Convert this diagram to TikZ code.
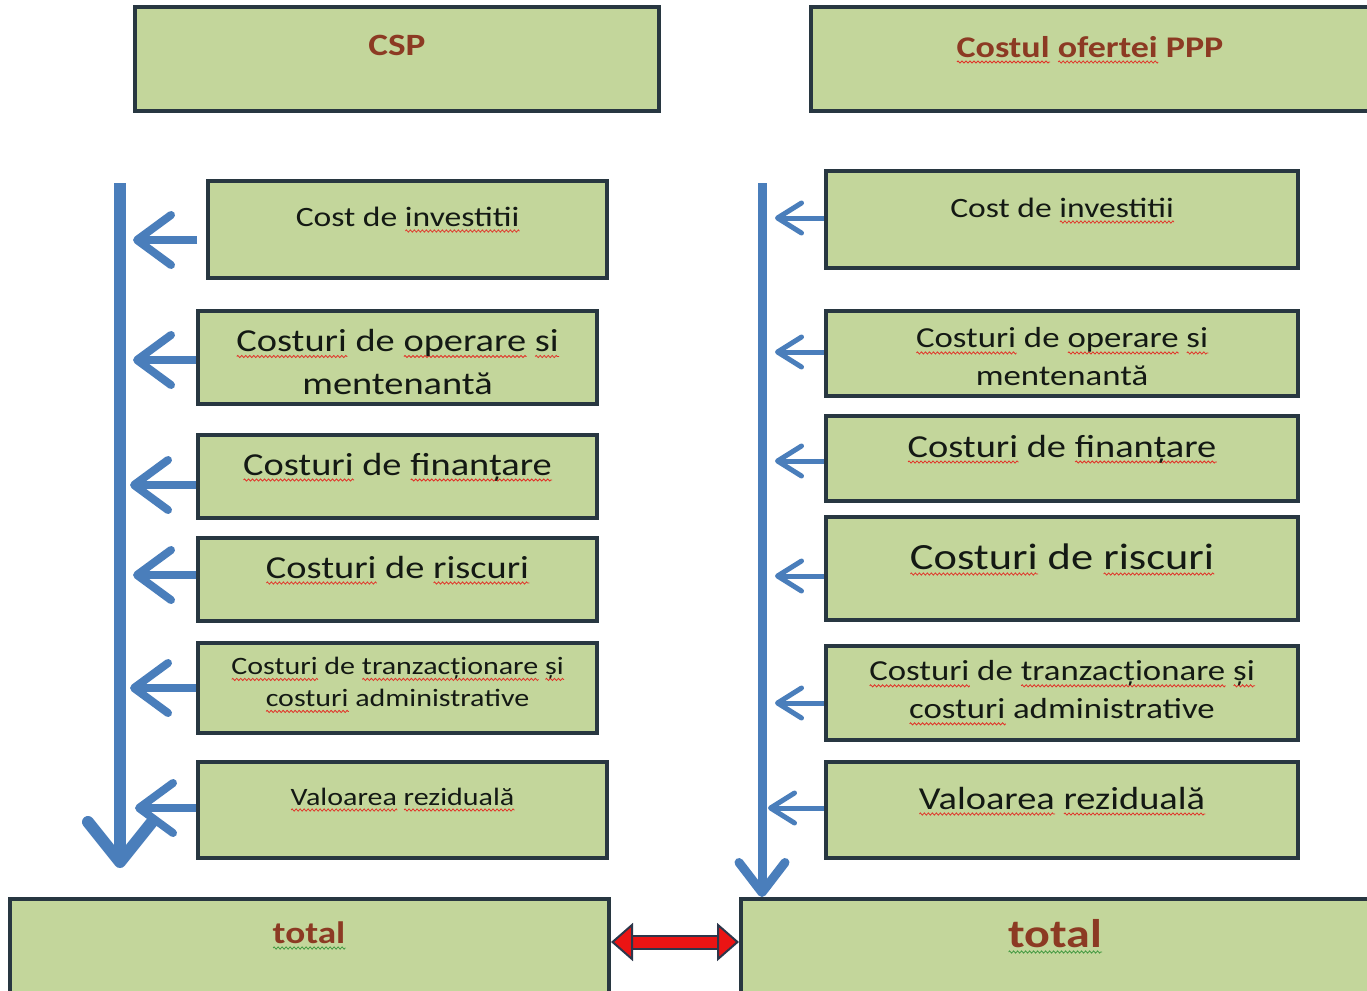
\documentclass[tikz,border=0pt]{standalone}
\usepackage{fontspec}
\usetikzlibrary{arrows.meta,decorations.pathmorphing}
\setmainfont{Carlito}
\newfontfamily\bodyf[FakeStretch=1.2]{Carlito}
\definecolor{boxfill}{RGB}{195,214,155}
\definecolor{boxline}{RGB}{40,55,65}
\definecolor{arrblue}{RGB}{74,126,187}
\definecolor{headc}{RGB}{140,58,35}
\definecolor{txtc}{RGB}{20,25,20}
\definecolor{sqred}{RGB}{225,50,40}
\definecolor{sqgreen}{RGB}{60,150,60}
\definecolor{redc}{RGB}{235,20,20}
\definecolor{outl}{RGB}{45,55,75}
\newlength\sqlen
\newcommand\sqw[2]{\settowidth\sqlen{#2}\rlap{\tikz[baseline=0pt]\draw[draw=#1, line width=0.8pt, decorate, decoration={zigzag,amplitude=1.1pt,segment length=4pt}] (0pt,-5pt) -- (\sqlen,-5pt);}#2}
\newcommand\rw[1]{\sqw{sqred}{#1}}
\newcommand\gw[1]{\sqw{sqgreen}{#1}}
\newcommand\F[2]{\bodyf\fontsize{#1}{#2}\selectfont}
\tikzset{
  box/.style={draw=boxline, line width=4pt, fill=boxfill, inner sep=0pt},
  txt/.style={text=txtc, inner sep=0pt, align=center},
  head/.style={text=headc, inner sep=0pt},
  vbig/.style={draw=arrblue, line width=12pt, -{Straight Barb[length=40pt,width=64pt,round]}},
  vsmall/.style={draw=arrblue, line width=9pt, -{Straight Barb[length=30pt,width=46pt,round]}},
  hbig/.style={draw=arrblue, line width=8pt, -{Straight Barb[length=34pt,width=50pt,round]}},
  hsmall/.style={draw=arrblue, line width=5pt, -{Straight Barb[length=24pt,width=30pt,round]}},
  redshaft/.style={draw=outl, line width=15pt, shorten <=20pt, shorten >=20pt},
  redarrow/.style={draw=redc, line width=11pt,
    {Triangle[length=22pt,width=38pt,fill=redc,color=outl,line width=2pt]}-{Triangle[length=22pt,width=38pt,fill=redc,color=outl,line width=2pt]}}
}
\begin{document}
\begin{tikzpicture}[x=1pt,y=-1pt]
\useasboundingbox (0,0) rectangle (1367,990);
\fill[white] (0,0) rectangle (1367,990);

% headers
\node[box, minimum width=524pt, minimum height=104pt] (csp) at (397,59) {};
\node[head, anchor=base, font={\F{31}{37}\bfseries}] (tcsp) at (397,56) {CSP};
\node[box, minimum width=589pt, minimum height=104pt] (ppp) at (1105.5,59) {};
\node[head, anchor=base, font={\F{30}{36}\bfseries}] (tppp) at (1090,57) {\rw{Costul} \rw{ofertei} PPP};

% left boxes
\node[box, minimum width=399pt, minimum height=97pt] (L1) at (407.5,229.5) {};
\node[txt, anchor=base, font={\F{28}{34}}] (tL1) at (407.5,226) {Cost de \rw{investitii}};
\node[box, minimum width=399pt, minimum height=93pt] (L2) at (397.5,357.5) {};
\node[txt, font={\F{32}{43}}] (tL2) at (397.5,362) {\rw{Costuri} de \rw{operare}\ \rw{si}\\mentenantă};
\node[box, minimum width=399pt, minimum height=83pt] (L3) at (397.5,476.5) {};
\node[txt, anchor=base, font={\F{32}{38}}] (tL3) at (397.5,475) {\rw{Costuri} de \rw{finanțare}};
\node[box, minimum width=399pt, minimum height=83pt] (L4) at (397.5,579.5) {};
\node[txt, anchor=base, font={\F{32}{38}}] (tL4) at (397.5,578) {\rw{Costuri} de \rw{riscuri}};
\node[box, minimum width=399pt, minimum height=90pt] (L5) at (397.5,688) {};
\node[txt, font={\F{25}{32}}] (tL5) at (397.5,685) {\rw{Costuri} de \rw{tranzacționare} \rw{și}\\\rw{costuri} administrative};
\node[box, minimum width=409pt, minimum height=96pt] (L6) at (402.5,810) {};
\node[txt, anchor=base, font={\F{25}{30}}] (tL6) at (402.5,805) {\rw{Valoarea} \rw{reziduală}};
\node[box, minimum width=599pt, minimum height=101pt] (TL) at (309.5,949.5) {};
\node[head, anchor=base, font={\F{31}{37}\bfseries}] (tTL) at (309,943) {\gw{total}};

% right boxes
\node[box, minimum width=472pt, minimum height=97pt] (R1) at (1062,219.5) {};
\node[txt, anchor=base, font={\F{28}{34}}] (tR1) at (1062,217) {Cost de \rw{investitii}};
\node[box, minimum width=472pt, minimum height=85pt] (R2) at (1062,353.5) {};
\node[txt, font={\F{29}{38}}] (tR2) at (1062,357) {\rw{Costuri} de \rw{operare} \rw{si}\\mentenantă};
\node[box, minimum width=472pt, minimum height=85pt] (R3) at (1062,458.5) {};
\node[txt, anchor=base, font={\F{32}{38}}] (tR3) at (1062,457) {\rw{Costuri} de \rw{finanțare}};
\node[box, minimum width=472pt, minimum height=103pt] (R4) at (1062,568.5) {};
\node[txt, anchor=base, font={\F{37}{44}}] (tR4) at (1062,569) {\rw{Costuri} de \rw{riscuri}};
\node[box, minimum width=472pt, minimum height=94pt] (R5) at (1062,693) {};
\node[txt, font={\F{29}{38}}] (tR5) at (1062,693) {\rw{Costuri} de \rw{tranzacționare} \rw{și}\\\rw{costuri} administrative};
\node[box, minimum width=472pt, minimum height=96pt] (R6) at (1062,810) {};
\node[txt, anchor=base, font={\F{32}{38}}] (tR6) at (1062,809) {\rw{Valoarea} \rw{reziduală}};
\node[box, minimum width=659pt, minimum height=101pt] (TR) at (1070.5,949.5) {};
\node[head, anchor=base, font={\F{40}{48}\bfseries}] (tTR) at (1055,947) {\gw{total}};

% vertical arrows
\coordinate (lvtop) at (120,183);
\coordinate (lvend) at (120,868);
\draw[vbig] (lvtop) -- (lvend);
\coordinate (rvtop) at (762,183);
\draw[vsmall] (rvtop) -- (rvtop |- TR.north);

% left horizontal arrows
\coordinate (la1) at (133,240);
\coordinate (la2) at (133,360);
\coordinate (la3) at (130,485);
\coordinate (la4) at (133,575);
\coordinate (la5) at (130,688);
\coordinate (la6) at (135,808);
\draw[hbig, shorten <=9pt] (L1.west |- la1) -- (la1);
\draw[hbig] (L2.west |- la2) -- (la2);
\draw[hbig] (L3.west |- la3) -- (la3);
\draw[hbig] (L4.west |- la4) -- (la4);
\draw[hbig] (L5.west |- la5) -- (la5);
\draw[hbig] (L6.west |- la6) -- (la6);

% right horizontal arrows
\coordinate (ra1) at (775,218);
\coordinate (ra2) at (775,352);
\coordinate (ra3) at (775,461);
\coordinate (ra4) at (775,576);
\coordinate (ra5) at (775,703);
\coordinate (ra6) at (768,808);
\draw[hsmall] (R1.west |- ra1) -- (ra1);
\draw[hsmall] (R2.west |- ra2) -- (ra2);
\draw[hsmall] (R3.west |- ra3) -- (ra3);
\draw[hsmall] (R4.west |- ra4) -- (ra4);
\draw[hsmall] (R5.west |- ra5) -- (ra5);
\draw[hsmall] (R6.west |- ra6) -- (ra6);

% red double arrow
\coordinate (mid) at (675,942);
\draw[redshaft] (TL.east |- mid) -- (TR.west |- mid);
\draw[redarrow] (TL.east |- mid) -- (TR.west |- mid);
\end{tikzpicture}
\end{document}
